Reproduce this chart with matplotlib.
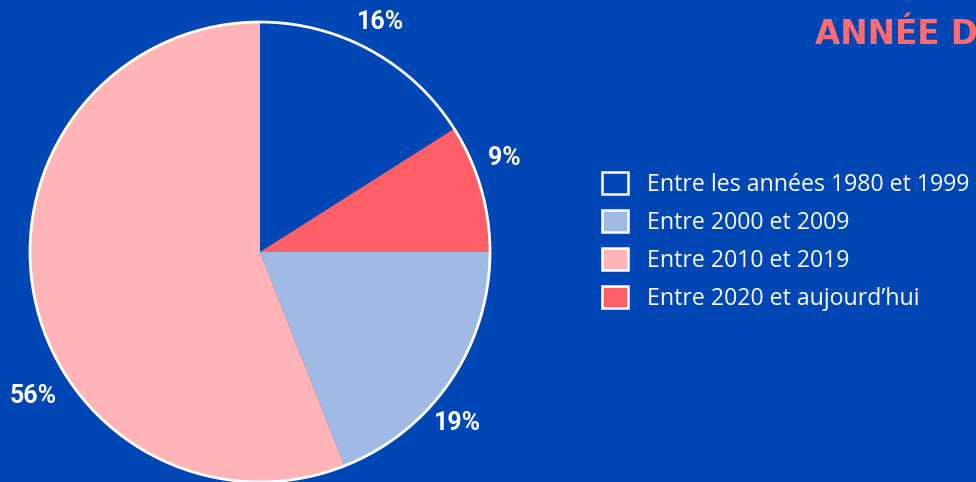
import numpy as np
import matplotlib.pyplot as plt
from matplotlib.patches import Patch, Circle

# data
categories = ["Entre les années 1980 et 1999", "Entre 2000 et 2009",
              "Entre 2010 et 2019", "Entre 2020 et aujourd\u2019hui"]
shares = [16, 19, 56, 9]
colors = ["#0046B5", "#A0BAE6", "#FFB5B8", "#FF5F67"]
# order of slices going clockwise from the top
pie_order = [0, 3, 1, 2]
label_angles = [62.2, 20.9, -40.7, 212.5]   # where the % labels sit
label_radius = [260, 263, 262, 268]

bg = "#0046B5"
fig = plt.figure(figsize=(9.76, 4.82), dpi=100, facecolor=bg)
ax = fig.add_axes([0, 0, 1, 1])
ax.set_facecolor(bg)

cx, cy, R = 260, 230, 230
vals = [shares[i] for i in pie_order]
cols = [colors[i] for i in pie_order]
wedges, _ = ax.pie(vals, colors=cols, startangle=90, counterclock=False,
                   radius=R, center=(cx, cy), wedgeprops=dict(linewidth=0))
ax.add_patch(Circle((cx, cy), R, fill=False, ec="white", lw=2))

for v, a, r in zip(vals, label_angles, label_radius):
    t = np.deg2rad(a)
    ax.text(cx - 1 + r*np.cos(t), cy + r*np.sin(t), f"{v}%", color="white",
            fontsize=18, fontweight="bold", family="Roboto",
            ha="center", va="center")

ax.set_xlim(0, 976)
ax.set_ylim(0, 482)
ax.set_aspect("equal")
ax.axis("off")

# title (cut off at right edge like the original)
ax.text(815, 482-35, "ANNÉE DE CRÉATION", color="#FF6B6E", fontsize=23.5,
        fontweight="bold", family="DejaVu Sans", ha="left", va="center")

handles = [Patch(facecolor=c, edgecolor="white", linewidth=1.8) for c in colors]
leg = ax.legend(handles, categories, loc="upper left",
                bbox_to_anchor=(602/976, 1 - 172/482), frameon=False,
                prop={"family": "Open Sans", "size": 16.7},
                labelcolor="white", handlelength=1.1, handleheight=1.1,
                handletextpad=0.85, labelspacing=0.56, borderpad=0,
                borderaxespad=0)

fig.savefig("out.png", dpi=100, facecolor=bg)
